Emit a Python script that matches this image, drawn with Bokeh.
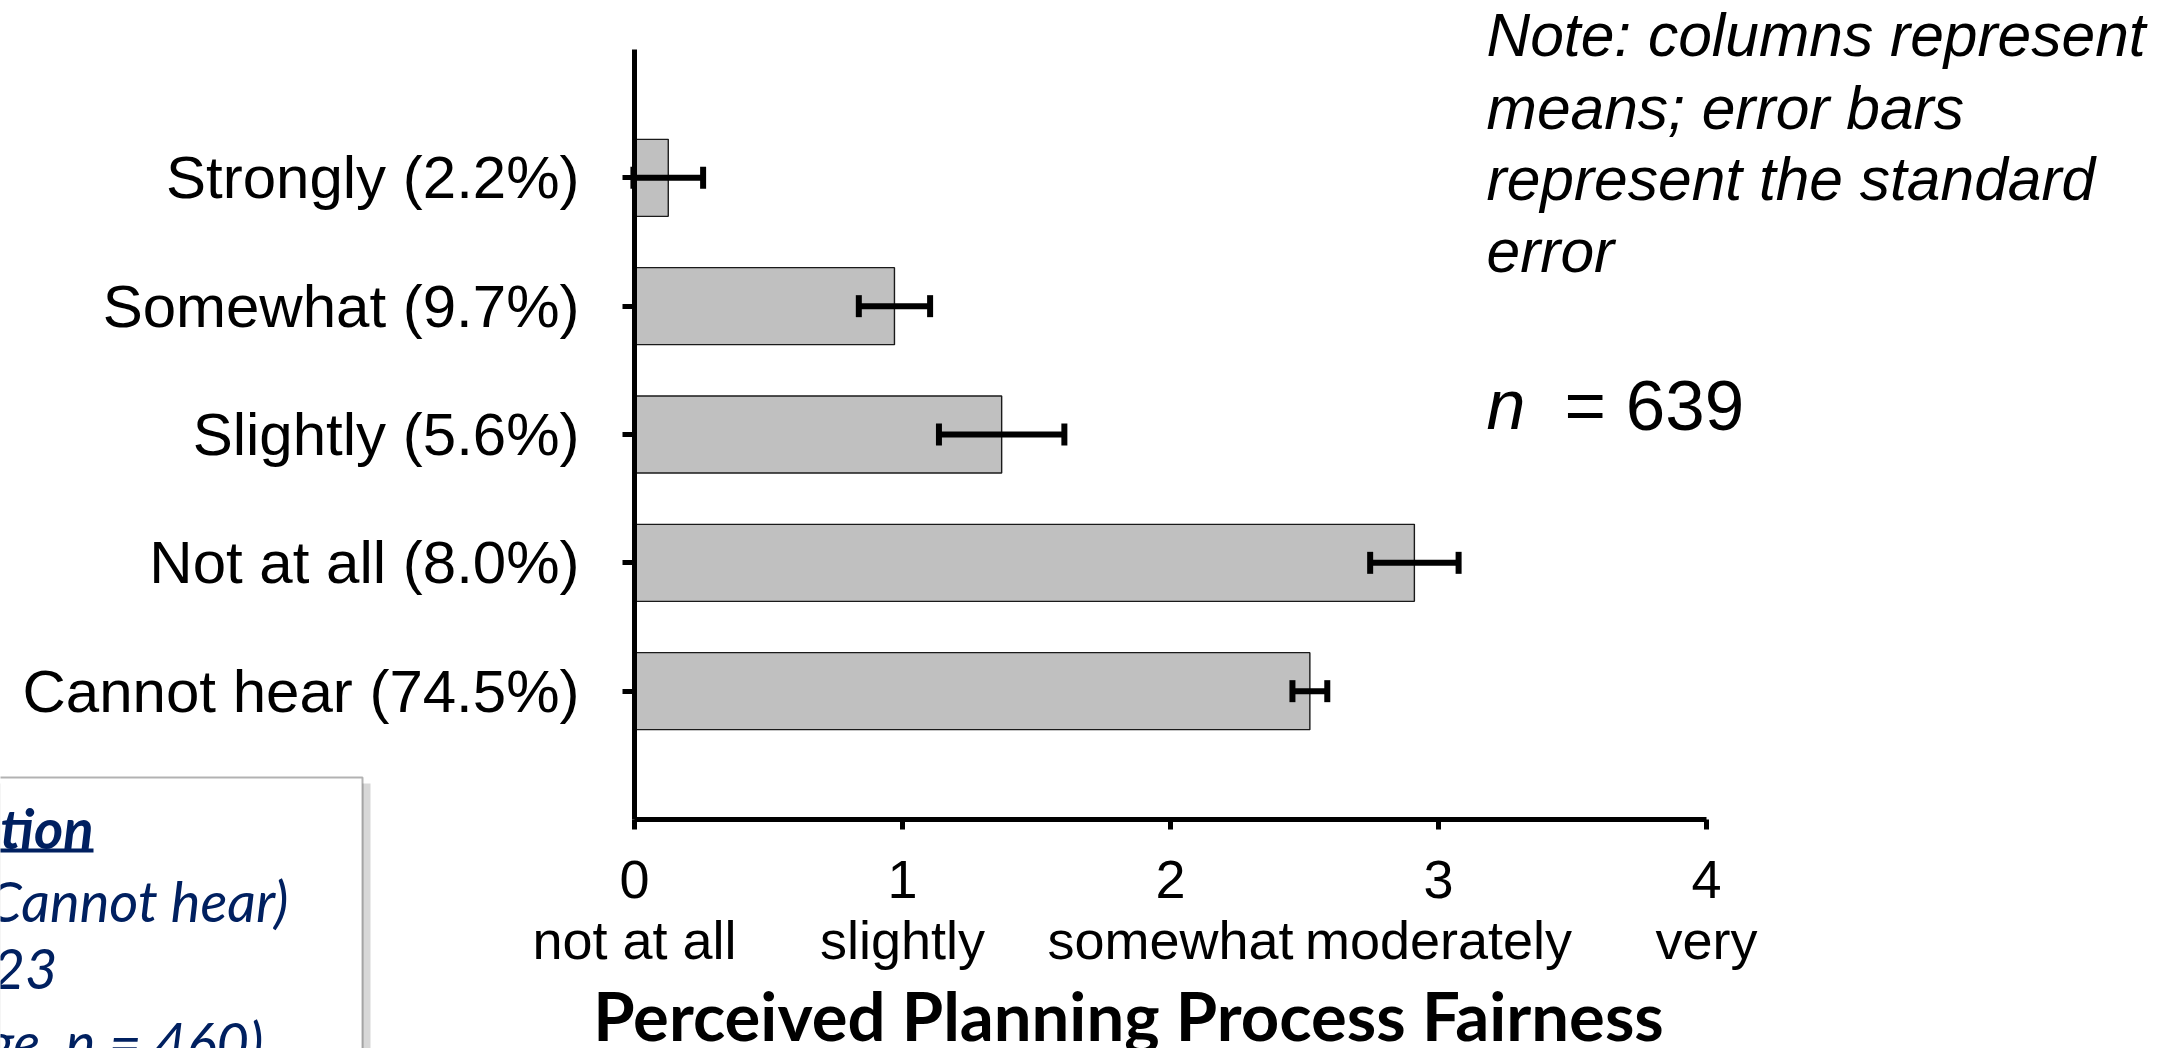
from bokeh.plotting import figure
from bokeh.models import (ColumnDataSource, FixedTicker, Whisker, TeeHead, Label,
                          BoxAnnotation, Range1d, LinearAxis)
from bokeh.embed import file_html
from bokeh.resources import INLINE

# ---------------- data ----------------
categories = ["Cannot hear (74.5%)", "Not at all (8.0%)", "Slightly (5.6%)",
              "Somewhat (9.7%)", "Strongly (2.2%)"]
means = [2.52, 2.91, 1.37, 0.97, 0.126]
std_errors = [0.065, 0.165, 0.234, 0.133, 0.13]
scale_values = [0, 1, 2, 3, 4]
scale_labels = ["not at all", "slightly", "somewhat", "moderately", "very"]
note_lines = ["Note: columns represent", "means; error bars",
              "represent the standard", "error"]
box_lines = ["tion", "Cannot hear)", "23", "ge, n = 460)"]

positions = list(range(1, len(categories) + 1))
lower = [m - s for m, s in zip(means, std_errors)]
upper = [m + s for m, s in zip(means, std_errors)]
src = ColumnDataSource(dict(y=positions, mean=means, lower=lower, upper=upper))

# ---------------- layout (pixel geometry of the chart area) ----------------
W, H = 2177, 1048
FL, FR, FT, FB = 634, 1706, 49, 819      # where the axes lie on the canvas
XMAX, YMAX = 4, len(categories) + 1
XS = (FR - FL) / XMAX
YS = (FB - FT) / YMAX


def dx(cx):
    return (cx - FL) / XS


def dy(cy):
    return (FB - cy) / YS


def base_y(baseline, size, k=0.32):
    # Bokeh draws an "alphabetic" label a little below its anchor; compensate
    return dy(baseline - k * size)


p = figure(width=W, height=H,
           x_range=Range1d(dx(0), dx(W)), y_range=Range1d(dy(H), dy(0)),
           x_axis_location=None, y_axis_location=None,
           output_backend="svg", toolbar_location=None, min_border=0)
p.outline_line_color = None
p.grid.visible = False
p.background_fill_color = "white"
p.border_fill_color = "white"

p.hbar(y="y", left=0, right="mean", height=0.6, source=src,
       fill_color="#c0c0c0", line_color="#1a1a1a", line_width=1.4)

head_kw = dict(size=22, line_width=6, line_color="black")
p.add_layout(Whisker(base="y", lower="lower", upper="upper", dimension="width",
                     source=src, line_width=6, line_color="black", level="annotation",
                     upper_head=TeeHead(**head_kw), lower_head=TeeHead(**head_kw)))

# x axis (fixed at y = 0)
xa = LinearAxis(fixed_location=0, bounds=(0, XMAX),
                ticker=FixedTicker(ticks=scale_values))
xa.major_label_overrides = {v: f"{v}\n{l}" for v, l in zip(scale_values, scale_labels)}
xa.axis_line_width = 5
xa.axis_line_color = "black"
xa.major_tick_line_width = 5
xa.major_tick_out = 10
xa.major_tick_in = 0
xa.minor_tick_line_color = None
xa.major_label_text_font = "Liberation Sans"
xa.major_label_text_font_size = "54px"
xa.major_label_text_line_height = 1.02
xa.major_label_text_color = "black"
xa.major_label_standoff = 19
p.add_layout(xa, "below")

# y axis (fixed at x = 0)
ya = LinearAxis(fixed_location=0, bounds=(0, YMAX),
                ticker=FixedTicker(ticks=positions))
ya.major_label_overrides = {v: c for v, c in zip(positions, categories)}
ya.axis_line_width = 5
ya.axis_line_color = "black"
ya.major_tick_line_width = 5
ya.major_tick_out = 12
ya.major_tick_in = 0
ya.minor_tick_line_color = None
ya.major_label_text_font = "Liberation Sans"
ya.major_label_text_font_size = "60px"
ya.major_label_text_color = "black"
ya.major_label_standoff = 43
p.add_layout(ya, "left")

# axis title
p.add_layout(Label(x=dx(1128), y=base_y(1035, 67, 0.3),
                   text="Perceived Planning Process Fairness",
                   text_align="center", text_baseline="alphabetic",
                   text_font="Lato", text_font_style="bold", text_font_size="67px",
                   text_color="black"))

# note text
note_base = [54, 127, 198, 270]
for t, b in zip(note_lines, note_base):
    p.add_layout(Label(x=dx(1486), y=base_y(b, 60.5), text=t, text_align="left",
                       text_baseline="alphabetic", text_font="Liberation Sans",
                       text_font_style="italic", text_font_size="60.5px",
                       text_color="black"))
p.add_layout(Label(x=dx(1486), y=base_y(427, 70), text="n", text_align="left",
                   text_baseline="alphabetic", text_font="Liberation Sans",
                   text_font_style="italic", text_font_size="70px", text_color="black"))
p.add_layout(Label(x=dx(1564), y=base_y(427, 70), text="= 639", text_align="left",
                   text_baseline="alphabetic", text_font="Liberation Sans",
                   text_font_size="71px", text_color="black"))

# bottom-left box (partly outside the picture)
NAVY = "#002060"
p.add_layout(BoxAnnotation(left=dx(-60), right=dx(370), top=dy(783), bottom=dy(1200),
                           fill_color="#b0b0b0", fill_alpha=0.5, line_color=None))
p.add_layout(BoxAnnotation(left=dx(-60), right=dx(362), top=dy(777), bottom=dy(1200),
                           fill_color="white", fill_alpha=1.0, line_color="black",
                           line_width=2))
box_right = [93, 288, 57, 263]
box_base = [844, 917, 985, 1058]
for i, t in enumerate(box_lines):
    p.add_layout(Label(x=dx(box_right[i]), y=base_y(box_base[i], 56, 0.3), text=t,
                       text_align="right", text_baseline="alphabetic", text_font="Lato",
                       text_font_style="bold italic" if i == 0 else "italic",
                       text_font_size="56px", text_color=NAVY))
p.add_layout(BoxAnnotation(left=dx(-60), right=dx(93), top=dy(848), bottom=dy(852),
                           fill_color=NAVY, fill_alpha=1.0, line_color=None))

open("out.html", "w").write(file_html(p, INLINE))
